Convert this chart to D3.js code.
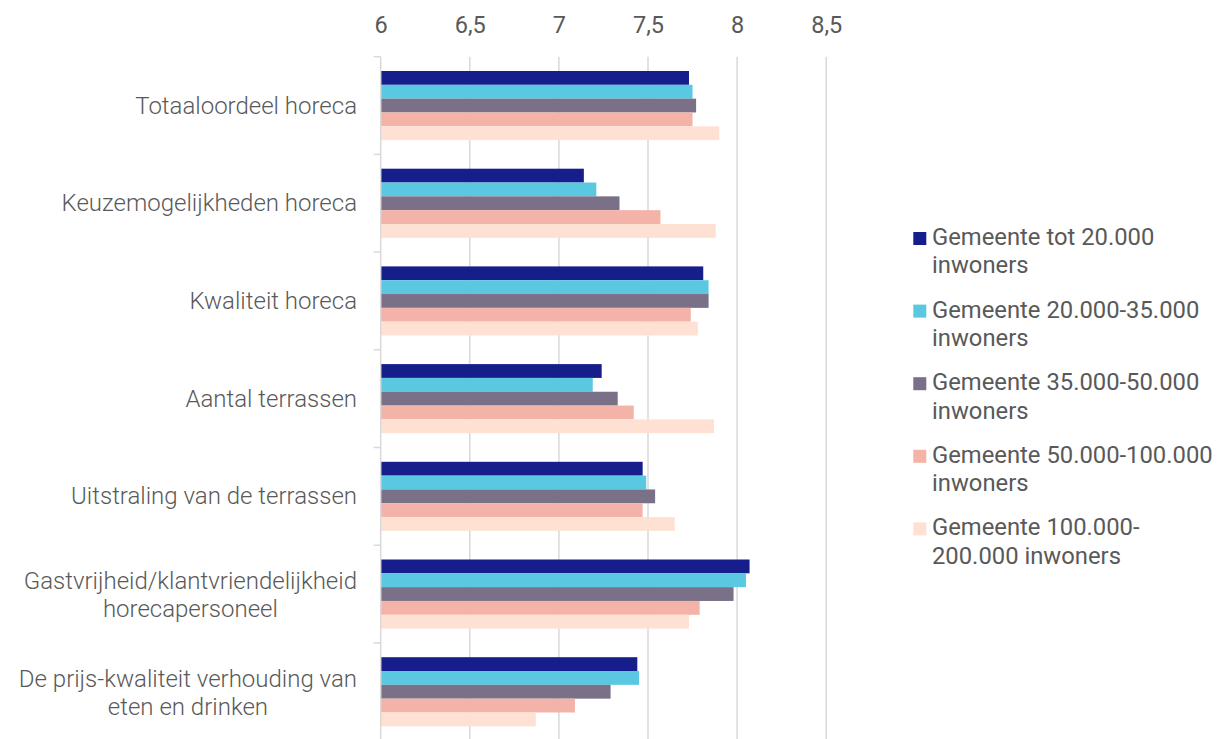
<!DOCTYPE html>
<html>
<head>
<meta charset="utf-8">
<script src="https://cdn.jsdelivr.net/npm/d3@7"></script>
<style>
  html, body { margin: 0; padding: 0; background: #ffffff; }
  svg { display: block; }
</style>
</head>
<body>
<svg id="chart" width="1217" height="739"></svg>
<script>
const categories = [
  ["Totaaloordeel horeca"],
  ["Keuzemogelijkheden horeca"],
  ["Kwaliteit horeca"],
  ["Aantal terrassen"],
  ["Uitstraling van de terrassen"],
  ["Gastvrijheid/klantvriendelijkheid", "horecapersoneel"],
  ["De prijs-kwaliteit verhouding van", "eten en drinken"]
];
const seriesNames = [
  ["Gemeente tot 20.000", "inwoners"],
  ["Gemeente 20.000-35.000", "inwoners"],
  ["Gemeente 35.000-50.000", "inwoners"],
  ["Gemeente 50.000-100.000", "inwoners"],
  ["Gemeente 100.000-", "200.000 inwoners"]
];
const tot20000     = [7.73, 7.14, 7.81, 7.24, 7.47, 8.07, 7.44];
const van20tot35   = [7.75, 7.21, 7.84, 7.19, 7.49, 8.05, 7.45];
const van35tot50   = [7.77, 7.34, 7.84, 7.33, 7.54, 7.98, 7.29];
const van50tot100  = [7.75, 7.57, 7.74, 7.42, 7.47, 7.79, 7.09];
const van100tot200 = [7.90, 7.88, 7.78, 7.87, 7.65, 7.73, 6.87];
const seriesValues = [tot20000, van20tot35, van35tot50, van50tot100, van100tot200];
const colors = ["#161e8c", "#5bc8e2", "#7a7087", "#f3b3a8", "#ffe1d4"];
const tickValues = [6, 6.5, 7, 7.5, 8, 8.5];
const tickLabels = ["6", "6,5", "7", "7,5", "8", "8,5"];

const svg = d3.select("#chart");
const textColor = "#595959";
const gridColor = "#d9d9d9";
const font = "Roboto, 'Noto Sans', sans-serif";

const x = d3.scaleLinear().domain([6, 8.5]).range([380.7, 826.2]);
const y = d3.scaleBand().domain(d3.range(categories.length)).range([56.7, 56.7 + 97.7 * 7]).paddingInner(0).paddingOuter(0);
const inner = d3.scaleBand().domain(d3.range(seriesValues.length))
  .range([14.3, 97.7 - 14.3]).padding(0);

// gridlines
svg.append("g").selectAll("line").data(tickValues.slice(1)).join("line")
  .attr("x1", d => x(d)).attr("x2", d => x(d))
  .attr("y1", y.range()[0]).attr("y2", y.range()[1])
  .attr("stroke", gridColor).attr("stroke-width", 1.5);

// bars
const groups = svg.append("g").selectAll("g").data(categories).join("g")
  .attr("transform", (d, i) => `translate(0,${y(i)})`);
groups.selectAll("rect").data((d, i) => seriesValues.map((s, k) => ({ k, v: s[i] })))
  .join("rect")
  .attr("x", x(6))
  .attr("y", d => inner(d.k))
  .attr("width", d => x(d.v) - x(6))
  .attr("height", inner.bandwidth())
  .attr("fill", d => colors[d.k]);

// vertical axis line with ticks
const yAxis = svg.append("g");
yAxis.append("line")
  .attr("x1", x(6)).attr("x2", x(6))
  .attr("y1", y.range()[0]).attr("y2", y.range()[1])
  .attr("stroke", gridColor).attr("stroke-width", 1.5);
yAxis.selectAll("line.tick").data(d3.range(categories.length + 1)).join("line")
  .attr("class", "tick")
  .attr("x1", x(6) - 7).attr("x2", x(6))
  .attr("y1", i => y.range()[0] + i * y.bandwidth())
  .attr("y2", i => y.range()[0] + i * y.bandwidth())
  .attr("stroke", gridColor).attr("stroke-width", 1.5);

// top tick labels
const xAxis = d3.axisTop(x).tickValues(tickValues)
  .tickFormat((d, i) => tickLabels[i]).tickSize(0).tickPadding(0);
const xg = svg.append("g").attr("transform", "translate(0,33)").call(xAxis);
xg.select(".domain").remove();
xg.selectAll("text")
  .attr("dy", 0).attr("y", 0)
  .attr("fill", textColor)
  .style("font-family", font).style("font-size", "23.5px").style("font-weight", 400);

// category labels
const labelRight = 357;
const lineH = 28;
const labelG = svg.append("g");
categories.forEach((lines, i) => {
  const cy = y(i) + y.bandwidth() / 2;
  const t = labelG.append("text")
    .attr("fill", textColor)
    .style("font-family", font).style("font-size", "24px").style("font-weight", 300)
    .attr("text-anchor", "middle");
  const n = lines.length;
  const off = n > 1 ? 9 : 8;
  lines.forEach((ln, j) => {
    t.append("tspan").attr("x", 0)
      .attr("y", cy + off + (j - (n - 1) / 2) * lineH)
      .text(ln);
  });
  let maxW = 0;
  t.selectAll("tspan").each(function () { maxW = Math.max(maxW, this.getComputedTextLength()); });
  t.selectAll("tspan").attr("x", labelRight - maxW / 2);
});

// legend
const legend = svg.append("g");
const legendTop = 245;
const itemGap = 72.6;
const legLineH = 28.3;
seriesNames.forEach((lines, k) => {
  const by = legendTop + k * itemGap;
  legend.append("rect")
    .attr("x", 913.3).attr("y", by - 13).attr("width", 13).attr("height", 13)
    .attr("fill", colors[k]);
  const t = legend.append("text")
    .attr("fill", textColor)
    .style("font-family", font).style("font-size", "23.8px").style("font-weight", 400);
  lines.forEach((ln, j) => {
    t.append("tspan").attr("x", 932).attr("y", by + j * legLineH).text(ln);
  });
});
</script>
</body>
</html>
